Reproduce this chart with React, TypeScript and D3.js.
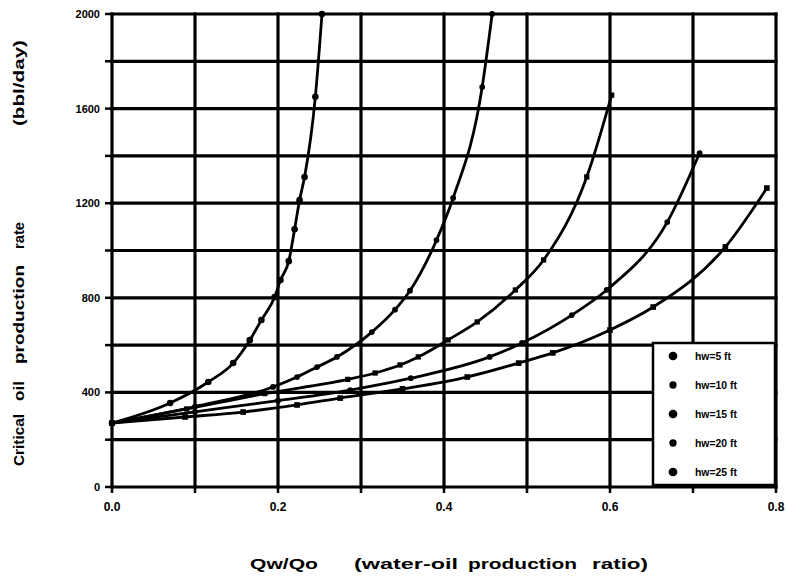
import React from "react";
import * as d3 from "d3";

const xTicks = [0, 0.2, 0.4, 0.6, 0.8];
const xTickLabels = ["0.0", "0.2", "0.4", "0.6", "0.8"];
const yTicks = [0, 400, 800, 1200, 1600, 2000];
const yTickLabels = ["0", "400", "800", "1200", "1600", "2000"];
const xGrid = [0, 0.1, 0.2, 0.3, 0.4, 0.5, 0.6, 0.7, 0.8];
const yGrid = [0, 200, 400, 600, 800, 1000, 1200, 1400, 1600, 1800, 2000];

const seriesNames = ["hw=5 ft", "hw=10 ft", "hw=15 ft", "hw=20 ft", "hw=25 ft"];

const curveA: [number, number][] = [
  [0, 270], [0.07, 355], [0.116, 444], [0.146, 524], [0.166, 621], [0.18, 706],
  [0.196, 803], [0.203, 875], [0.213, 955], [0.22, 1090], [0.226, 1213],
  [0.232, 1311], [0.245, 1650], [0.253, 2000],
];
const curveB: [number, number][] = [
  [0, 270], [0.1, 340], [0.194, 423], [0.223, 465], [0.247, 507], [0.271, 550],
  [0.313, 655], [0.341, 750], [0.359, 830], [0.391, 1044], [0.411, 1222],
  [0.446, 1691], [0.458, 2000],
];
const curveC: [number, number][] = [
  [0, 270], [0.09, 330], [0.184, 395], [0.284, 455], [0.317, 482], [0.347, 516],
  [0.369, 550], [0.405, 622], [0.44, 698], [0.486, 833], [0.52, 960],
  [0.572, 1311], [0.602, 1657],
];
const curveD: [number, number][] = [
  [0, 270], [0.1, 318], [0.2, 365], [0.287, 410], [0.36, 460], [0.455, 550],
  [0.494, 609], [0.554, 727], [0.596, 833], [0.669, 1120], [0.708, 1412],
];
const curveE: [number, number][] = [
  [0, 270], [0.088, 296], [0.158, 317], [0.223, 347], [0.275, 376], [0.35, 415],
  [0.428, 465], [0.49, 524], [0.531, 567], [0.6, 664], [0.652, 761],
  [0.739, 1015], [0.789, 1264],
];
const allCurves = [curveA, curveB, curveC, curveD, curveE];
const symbols = [d3.symbolCircle, d3.symbolCircle, d3.symbolSquare, d3.symbolCircle, d3.symbolSquare];
const symSizes = [34, 26, 28, 26, 32];

export default function App() {
  const W = 786, H = 579;
  const x = d3.scaleLinear().domain([0, 0.8]).range([112, 776]);
  const y = d3.scaleLinear().domain([0, 2000]).range([487, 14]);
  const line = d3.line<[number, number]>()
    .x((d) => x(d[0]))
    .y((d) => y(d[1]))
    .curve(d3.curveMonotoneX);
  const font = "'Liberation Sans', Arial, sans-serif";

  const legX0 = 653, legY0 = 343, legX1 = 775, legY1 = 485;
  const legRows = d3.range(5).map((i) => 356 + i * 29);

  return (
    <svg width={W} height={H} style={{ position: "absolute", left: 0, top: 0, background: "#fff" }}>
      <rect x={0} y={0} width={W} height={H} fill="#fff" />
      {xGrid.map((v, i) => (
        <line key={"gx" + i} x1={x(v)} x2={x(v)} y1={y(0) + 1.5} y2={y(2000) - 1.5} stroke="#000" strokeWidth={3.2} />
      ))}
      {yGrid.map((v, i) => (
        <line key={"gy" + i} x1={x(0) - 1.5} x2={x(0.8) + 1.5} y1={y(v)} y2={y(v)} stroke="#000" strokeWidth={3.2} />
      ))}
      {yGrid.map((v, i) => (
        <line key={"ty" + i} x1={x(0) - 7} x2={x(0)} y1={y(v)} y2={y(v)} stroke="#000" strokeWidth={2.5} />
      ))}
      {xGrid.map((v, i) => (
        <line key={"tx" + i} x1={x(v)} x2={x(v)} y1={y(0)} y2={y(0) + 6} stroke="#000" strokeWidth={2.5} />
      ))}
      {yTicks.map((v, i) => (
        <text key={"yl" + i} x={100} y={y(v) + 4} textAnchor="end" fontFamily={font} fontWeight="bold" fontSize={11}>
          {yTickLabels[i]}
        </text>
      ))}
      {xTicks.map((v, i) => (
        <text key={"xl" + i} x={x(v)} y={511} textAnchor="middle" fontFamily={font} fontWeight="bold" fontSize={12}>
          {xTickLabels[i]}
        </text>
      ))}
      {allCurves.map((c, i) => (
        <path key={"c" + i} d={line(c) || ""} fill="none" stroke="#000" strokeWidth={2.8} />
      ))}
      {allCurves.map((c, i) =>
        c.map((p, j) => (
          <path
            key={"m" + i + "-" + j}
            d={d3.symbol().type(symbols[i]).size(symSizes[i])() || ""}
            transform={`translate(${x(p[0])},${y(p[1])})`}
            fill="#000"
          />
        ))
      )}
      <rect x={legX0} y={legY0} width={legX1 - legX0} height={legY1 - legY0} fill="#fff" stroke="#000" strokeWidth={2.5} />
      {seriesNames.map((n, i) => (
        <g key={"lg" + i}>
          <path
            d={d3.symbol().type(d3.symbolCircle).size(i % 2 === 0 ? 60 : 42)() || ""}
            transform={`translate(673,${legRows[i]})`}
            fill="#000"
          />
          <text x={695} y={legRows[i] + 4} fontFamily={font} fontWeight="bold" fontSize={10} textLength={i === 0 ? 36 : 42} lengthAdjust="spacingAndGlyphs">
            {n}
          </text>
        </g>
      ))}
      <g fontFamily={font} fontWeight="bold" fontSize={15}>
        <text x={250} y={569} textLength={68} lengthAdjust="spacingAndGlyphs">Qw/Qo</text>
        <text x={354} y={569} textLength={104} lengthAdjust="spacingAndGlyphs">(water-oil</text>
        <text x={468} y={569} textLength={109} lengthAdjust="spacingAndGlyphs">production</text>
        <text x={592} y={569} textLength={56} lengthAdjust="spacingAndGlyphs">ratio)</text>
      </g>
      <g fontFamily={font} fontWeight="bold" fontSize={15} transform="translate(24,0) rotate(-90)">
        <text x={-466} y={0} textLength={52} lengthAdjust="spacingAndGlyphs">Critical</text>
        <text x={-401} y={0} textLength={20} lengthAdjust="spacingAndGlyphs">oil</text>
        <text x={-364} y={0} textLength={99} lengthAdjust="spacingAndGlyphs">production</text>
        <text x={-249} y={0} textLength={27} lengthAdjust="spacingAndGlyphs">rate</text>
        <text x={-126} y={0} textLength={86} lengthAdjust="spacingAndGlyphs">(bbl/day)</text>
      </g>
    </svg>
  );
}
